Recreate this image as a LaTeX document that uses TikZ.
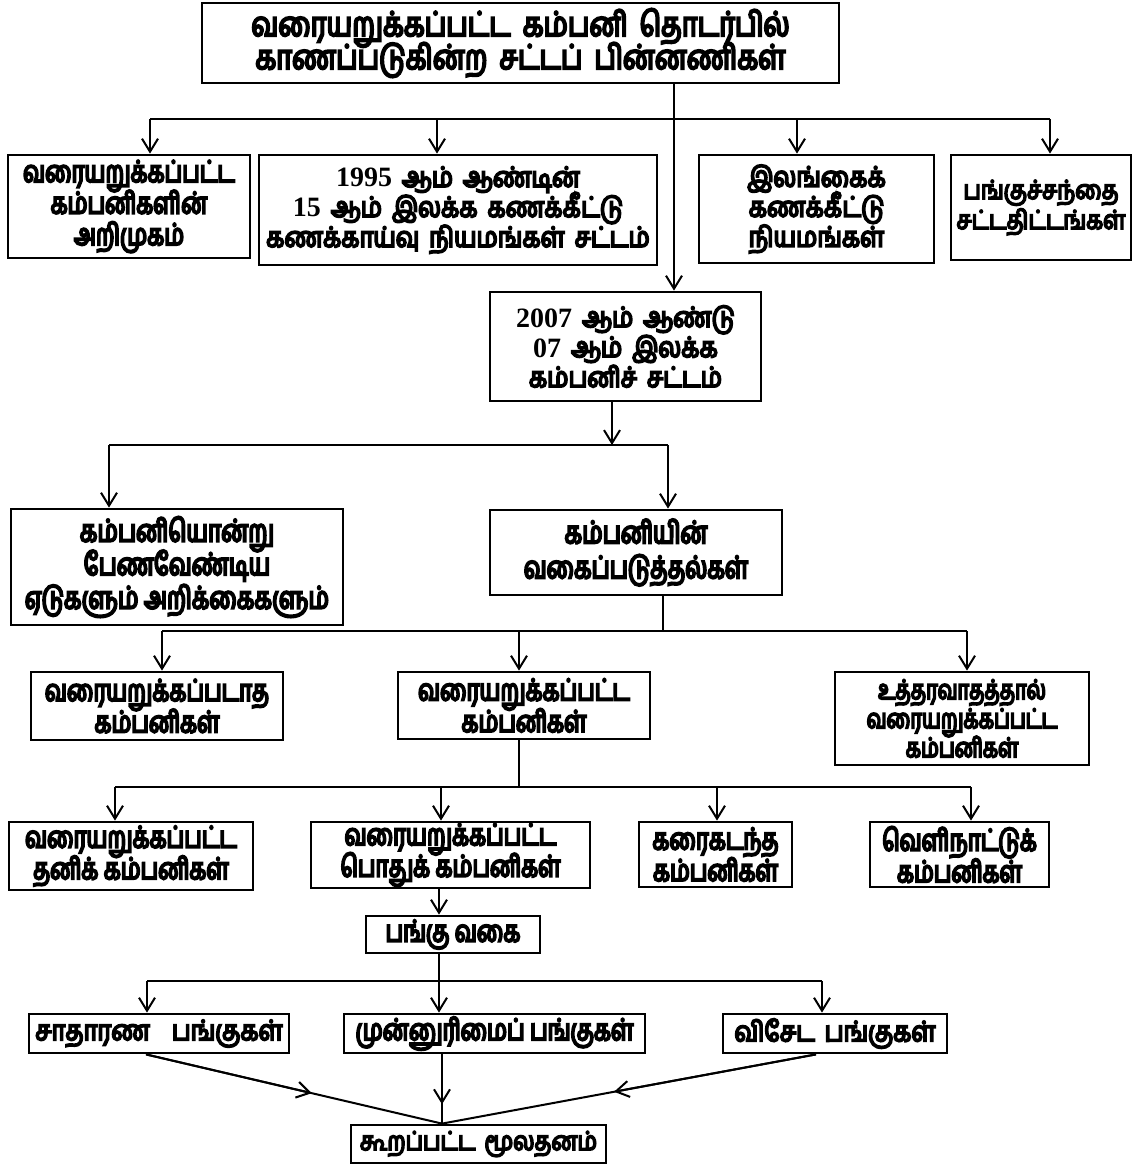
\documentclass[tikz,border=0pt]{standalone}
\usepackage{fontspec}
\usetikzlibrary{arrows.meta,calc}
% heavy Tamil faces: a normal-width one, a narrow one and one for the heading
\newfontfamily\tawide[Script=Tamil,FakeBold=6.5,FakeStretch=0.85,WordSpace=1.7]{Hind Madurai}
\newfontfamily\tacond[Script=Tamil,FakeBold=6.5,FakeStretch=0.74]{Hind Madurai}
\newfontfamily\tahead[Script=Tamil,FakeBold=6,FakeStretch=0.8,WordSpace=1.8]{Hind Madurai}
\newfontfamily\numf{Liberation Serif}
\newcommand{\nm}[1]{{\numf\bfseries #1}}
\begin{document}
% keep the stated line spacing even where glyphs are tall
\lineskiplimit=-100pt
\begin{tikzpicture}[x=1pt,y=-1pt,
  box/.style={draw, line width=2.8pt, align=center, inner sep=0pt},
  wide/.style={font=\tawide\fontsize{28}{30}\selectfont},
  cond/.style={font=\tacond\fontsize{30}{31.5}\selectfont},
  titlef/.style={font=\tahead\fontsize{34}{33}\selectfont},
  line/.style={line width=2pt},
  bus/.style={line width=2.5pt},
  arr/.style={line width=2pt, -{Straight Barb[length=13pt,width=16pt,line width=2pt]}}]
\useasboundingbox (0,0) rectangle (1142,1166);

% boxes
\node[box,titlef,minimum width=637pt,minimum height=80pt] (top) at (520.5,43)
  {வரையறுக்கப்பட்ட கம்பனி தொடர்பில்\\காணப்படுகின்ற சட்டப் பின்னணிகள்};

\node[box,cond,minimum width=242pt,minimum height=103pt] (b1) at (129,206.5)
  {வரையறுக்கப்பட்ட\\கம்பனிகளின்\\அறிமுகம்};
\node[box,wide,minimum width=398pt,minimum height=110pt] (b2) at (458,210)
  {\nm{1995} ஆம் ஆண்டின்\\\nm{15} ஆம் இலக்க கணக்கீட்டு\\கணக்காய்வு நியமங்கள் சட்டம்};
\node[box,wide,minimum width=235pt,minimum height=108pt] (b3) at (816.5,209)
  {இலங்கைக்\\கணக்கீட்டு\\நியமங்கள்};
\node[box,wide,font=\tawide\fontsize{26}{30}\selectfont,minimum width=180pt,minimum height=105pt] (b4) at (1041,207.5)
  {பங்குச்சந்தை\\சட்டதிட்டங்கள்};

\node[box,wide,minimum width=271pt,minimum height=109pt] (act) at (625.5,346.5)
  {\nm{2007} ஆம் ஆண்டு\\\nm{07} ஆம் இலக்க\\கம்பனிச் சட்டம்};

\node[box,cond,font=\tacond\fontsize{31}{33.5}\selectfont,minimum width=332pt,minimum height=116pt] (rec) at (177,567)
  {கம்பனியொன்று\\பேணவேண்டிய\\ஏடுகளும் அறிக்கைகளும்};
\node[box,cond,font=\tacond\fontsize{31}{35}\selectfont,minimum width=292pt,minimum height=85pt] (cls) at (636,552.5)
  {கம்பனியின்\\வகைப்படுத்தல்கள்};

\node[box,cond,minimum width=252pt,minimum height=68pt] (la) at (157,706)
  {வரையறுக்கப்படாத\\கம்பனிகள்};
\node[box,cond,minimum width=252pt,minimum height=67pt] (lb) at (524,705.5)
  {வரையறுக்கப்பட்ட\\கம்பனிகள்};
\node[box,cond,font=\tacond\fontsize{27}{29}\selectfont,minimum width=254pt,minimum height=93pt] (lc) at (962,718.5)
  {உத்தரவாதத்தால்\\வரையறுக்கப்பட்ட\\கம்பனிகள்};

\node[box,cond,minimum width=244pt,minimum height=68pt] (pd) at (131,856)
  {வரையறுக்கப்பட்ட\\தனிக் கம்பனிகள்};
\node[box,cond,minimum width=279pt,minimum height=66pt] (pu) at (450.5,855)
  {வரையறுக்கப்பட்ட\\பொதுக் கம்பனிகள்};
\node[box,cond,minimum width=153pt,minimum height=65pt] (os) at (715.5,854.5)
  {கரைகடந்த\\கம்பனிகள்};
\node[box,cond,minimum width=179pt,minimum height=65pt] (fo) at (959.5,854.5)
  {வெளிநாட்டுக்\\கம்பனிகள்};

\node[box,cond,minimum width=174pt,minimum height=37pt] (sh) at (453,934.5)
  {பங்கு வகை};

\node[box,wide,minimum width=260pt,minimum height=39pt] (s1) at (159,1033.5)
  {சாதாரண\hspace{22pt}பங்குகள்};
\node[box,cond,minimum width=301pt,minimum height=39pt] (s2) at (494.5,1033.5)
  {முன்னுரிமைப் பங்குகள்};
\node[box,wide,minimum width=224pt,minimum height=39pt] (s3) at (835,1033.5)
  {விசேட பங்குகள்};

\node[box,wide,font=\tawide\fontsize{26}{30}\selectfont,minimum width=255pt,minimum height=38pt] (cap) at (478.5,1144)
  {கூறப்பட்ட மூலதனம்};

% title trunk and first bus
\coordinate (xa) at (674,0);
\draw[arr] (xa |- top.south) -- (xa |- act.north);
\coordinate (p11) at (150,119);
\coordinate (p12) at (437,119);
\coordinate (p13) at (797,119);
\coordinate (p14) at (1050,119);
\draw[line] (p11) -- (p14);
\draw[arr] (p11) -- (p11 |- b1.north);
\draw[arr] (p12) -- (p12 |- b2.north);
\draw[arr] (p13) -- (p13 |- b3.north);
\draw[arr] (p14) -- (p14 |- b4.north);

% act branches
\coordinate (q0) at (612,445);
\draw[arr] (q0 |- act.south) -- (q0);
\coordinate (p21) at (109,445);
\coordinate (p22) at (668,445);
\draw[bus] (p21) -- (p22);
\draw[arr] (p21) -- (p21 |- rec.north);
\draw[arr] (p22) -- (p22 |- cls.north);

% classification branches
\coordinate (q1) at (663,631);
\draw[line] (q1 |- cls.south) -- (q1);
\coordinate (p31) at (162,631);
\coordinate (p32) at (519,631);
\coordinate (p33) at (967,631);
\draw[bus] (p31) -- (p33);
\draw[arr] (p31) -- (p31 |- la.north);
\draw[arr] (p32) -- (p32 |- lb.north);
\draw[arr] (p33) -- (p33 |- lc.north);

% limited company branches
\coordinate (q2) at (519,787);
\draw[line] (q2 |- lb.south) -- (q2);
\coordinate (p41) at (115,787);
\coordinate (p42) at (441,787);
\coordinate (p43) at (717,787);
\coordinate (p44) at (971,787);
\draw[bus] (p41) -- (p44);
\draw[arr] (p41) -- (p41 |- pd.north);
\draw[arr] (p42) -- (p42 |- pu.north);
\draw[arr] (p43) -- (p43 |- os.north);
\draw[arr] (p44) -- (p44 |- fo.north);

% share types
\coordinate (q3) at (439,0);
\draw[arr] (q3 |- pu.south) -- (q3 |- sh.north);
\coordinate (q4) at (439,981);
\draw[line] (q4 |- sh.south) -- (q4);
\coordinate (p51) at (147,981);
\coordinate (p52) at (439,981);
\coordinate (p53) at (822,981);
\draw[bus] (p51) -- (p53);
\draw[arr] (p51) -- (p51 |- s1.north);
\draw[arr] (p52) -- (p52 |- s2.north);
\draw[arr] (p53) -- (p53 |- s3.north);

% converging into stated capital
\coordinate (cm) at (442,0);
\coordinate (c0) at (cm |- cap.north);
\coordinate (c1) at (146,0);
\coordinate (c3) at (816,0);
\coordinate (a1) at (c1 |- s1.south);
\coordinate (a2) at (cm |- s2.south);
\coordinate (a3) at (c3 |- s3.south);
\draw[line] (a1) -- (c0);
\draw[line] (a2) -- (c0);
\draw[line] (a3) -- (c0);
\draw[arr] (a1) -- ($(a1)!0.56!(c0)$);
\draw[arr] (a2) -- ($(a2)!0.72!(c0)$);
\draw[arr] (a3) -- ($(a3)!0.54!(c0)$);
\end{tikzpicture}
\end{document}
